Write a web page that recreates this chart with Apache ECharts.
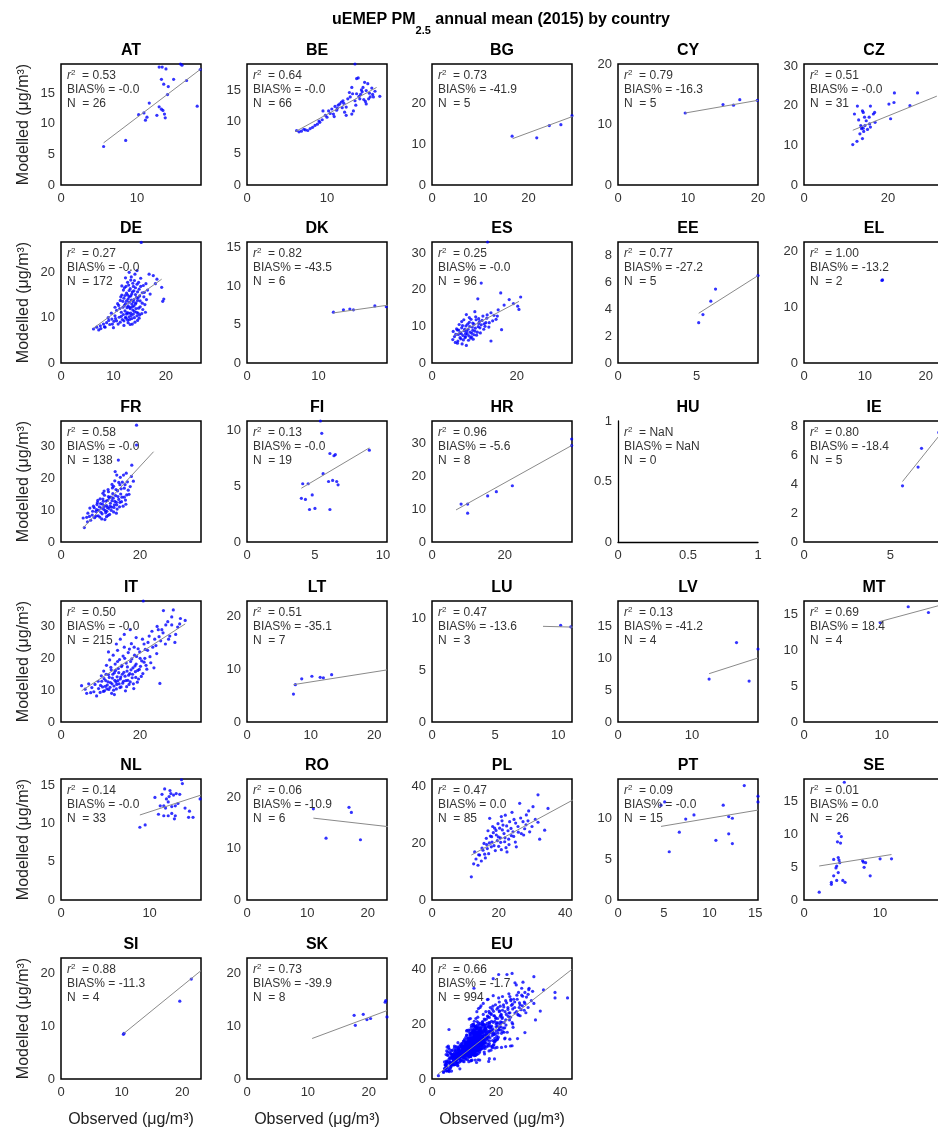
<!DOCTYPE html>
<html><head><meta charset="utf-8">
<script src="https://cdn.jsdelivr.net/npm/echarts@6/dist/echarts.min.js"></script>
<style>html,body{margin:0;padding:0;background:#fff}#c{width:938px;height:1131px}</style>
</head><body><div id="c"></div>
<script>
// ---------------- DATA ----------------
const countries = ['AT','BE','BG','CY','CZ','DE','DK','ES','EE','EL','FR','FI','HR','HU','IE','IT','LT','LU','LV','MT','NL','RO','PL','PT','SE','SI','SK','EU'];
const r2Labels   = ['0.53','0.64','0.73','0.79','0.51','0.27','0.82','0.25','0.77','1.00','0.58','0.13','0.96','NaN','0.80','0.50','0.51','0.47','0.13','0.69','0.14','0.06','0.47','0.09','0.01','0.88','0.73','0.66'];
const biasLabels = ['-0.0','-0.0','-41.9','-16.3','-0.0','-0.0','-43.5','-0.0','-27.2','-13.2','-0.0','-0.0','-5.6','NaN','-18.4','-0.0','-35.1','-13.6','-41.2','18.4','-0.0','-10.9','0.0','-0.0','0.0','-11.3','-39.9','-1.7'];
const nLabels    = ['26','66','5','5','31','172','6','96','5','2','138','19','8','0','5','215','7','3','4','4','33','6','85','15','26','4','8','994'];
// axis extents and tick steps (observed = x, modelled = y)
const xMaxes = [18.4,17.5,29,20,33.3,26.7,19.6,33,8.9,23,35.4,10.3,38.5,1,8.1,35.4,22,11.1,18.9,18,15.8,23.2,42,15.3,18.4,23.1,23,43.7];
const yMaxes = [19.8,19.1,29.5,20,30.5,26.7,15.7,33,9,21.7,37.8,10.8,37,1,8.4,38,23,11.7,18.9,16.8,15.8,23.5,42.8,14.8,18.5,23,23,44];
const xSteps = [10,10,10,10,20,10,10,20,5,10,20,5,20,0.5,5,20,10,5,10,10,10,10,20,5,10,10,10,20];
const ySteps = [5,5,10,10,10,10,5,10,2,10,10,5,10,0.5,2,10,10,5,5,5,5,10,20,5,5,10,10,20];

// observed / modelled pairs per country
const obsModAT = [[5.6,6.3],[8.5,7.3],[10.2,11.5],[10.9,11.8],[11.3,11.1],[11.1,10.6],[11.6,13.4],[12.9,12.8],[13.2,12.4],[13.3,19.3],[12.9,19.3],[13.2,17.3],[13.5,16.5],[14.1,16.1],[13.4,12.2],[13.6,11.6],[13.7,11.0],[14.8,17.3],[15.7,19.8],[15.9,19.6],[16.5,17.1],[17.9,12.9],[18.3,18.9],[13.8,19.0],[12.6,11.4],[14.0,14.8]];
const obsModBE = [[6.2,8.6],[6.5,8.4],[6.8,8.5],[7.1,8.8],[7.3,8.7],[7.6,8.6],[7.9,8.9],[8.2,9.1],[8.5,9.4],[8.8,9.6],[9.1,9.9],[9.4,10.3],[9.5,11.7],[9.8,11.0],[10.2,11.7],[10.4,11.3],[10.6,12.0],[10.8,11.2],[11.0,12.4],[11.2,11.8],[11.4,12.6],[11.6,12.8],[11.8,13.1],[12.0,13.3],[12.2,11.5],[12.4,12.3],[12.4,11.0],[12.6,13.6],[12.9,13.9],[13.1,15.4],[13.1,11.2],[13.3,11.7],[13.5,13.3],[13.6,12.6],[13.7,14.4],[13.7,16.8],[13.9,16.9],[14.0,14.0],[14.1,13.6],[14.3,15.0],[14.5,15.4],[14.7,16.2],[14.8,13.2],[14.9,14.9],[14.9,12.8],[15.1,16.0],[15.3,14.5],[15.4,13.9],[15.6,15.3],[15.8,13.9],[16.0,14.8],[16.6,14.0],[13.5,19.1],[12.8,14.6],[11.9,12.2],[10.9,10.8],[14.4,14.7],[15.2,13.6],
  [9.0,10.1],[10.0,10.7],[11.3,12.1],[12.1,12.9],[13.2,14.4],[14.2,14.3],[14.6,13.5],[15.7,14.3]];
const obsModBG = [[16.6,11.9],[21.7,11.5],[24.3,14.5],[26.7,14.7],[29.0,16.9]];
const obsModCY = [[9.6,11.9],[15.0,13.3],[16.5,13.2],[17.4,14.1],[19.9,14.0]];
const obsModCZ = [[11.6,10.2],[12.6,11.0],[12.0,17.9],[12.7,19.9],[13.3,12.9],[13.5,15.0],[13.7,14.6],[13.9,18.7],[13.9,11.7],[14.1,18.3],[14.4,17.1],[13.7,14.2],[14.1,14.3],[14.5,15.0],[14.8,16.2],[15.5,17.1],[15.6,15.4],[15.8,19.9],[15.8,14.6],[16.5,17.9],[16.8,18.3],[16.9,15.8],[20.6,16.7],[20.2,20.4],[21.5,23.2],[21.4,20.8],[25.2,20.0],[27.0,23.2],[14.2,13.5],[15.1,14.0],[13.0,16.4]];
const obsModDE = [[6.2,7.5],[6.8,7.9],[7.2,7.3],[7.5,8.2],[8.1,8.6],[8.4,7.9],[8.7,8.9],[9.0,10.0],[9.3,8.5],[9.7,9.7],[10.0,7.8],[10.1,9.2],[10.3,10.4],[10.6,9.3],[10.6,11.6],[10.9,8.6],[11.0,12.7],[11.1,10.1],[11.3,9.0],[11.3,13.8],[11.5,11.2],[11.6,15.0],[11.7,9.6],[11.8,12.3],[11.9,10.7],[12.0,14.3],[12.0,8.3],[12.1,16.6],[12.2,11.5],[12.3,13.1],[12.4,9.9],[12.5,15.4],[12.5,10.8],[12.6,12.2],[12.7,17.8],[12.8,14.1],[12.8,8.9],[12.9,11.0],[13.0,13.4],[13.0,16.0],[13.1,9.6],[13.2,12.0],[13.3,14.8],[13.3,18.3],[13.4,10.5],[13.5,13.0],[13.6,15.7],[13.6,8.6],[13.7,11.7],[13.8,16.9],[13.9,14.0],[13.9,12.6],[14.0,10.0],[14.1,19.6],[14.2,15.1],[14.3,13.3],[14.4,11.2],[14.5,17.4],[14.5,20.4],[14.6,9.4],[14.7,14.4],[14.8,12.1],[14.9,16.3],[15.0,10.6],[15.1,13.7],[15.2,18.7],[15.3,26.6],[15.5,15.5],[15.6,11.8],[15.8,14.6],[16.0,12.9],[16.2,17.5],[16.5,16.1],[16.8,19.6],[17.6,19.3],[18.3,18.5],[19.2,16.7],[19.6,14.1],[13.0,20.0],[12.3,18.8],[11.6,17.0],[10.3,12.3],[9.6,11.0],
  [11.2,12.0],[11.4,14.6],[11.5,10.3],[11.8,13.6],[11.9,16.1],[12.0,9.3],[12.1,12.7],[12.2,14.9],[12.3,10.1],[12.4,16.9],[12.5,13.7],[12.6,11.1],[12.7,9.5],[12.7,15.0],[12.8,12.6],[12.9,17.2],[13.0,10.2],[13.0,14.6],[13.1,12.3],[13.2,16.4],[13.2,8.5],[13.3,11.0],[13.4,13.9],[13.4,19.0],[13.5,9.8],[13.5,15.2],[13.6,12.4],[13.7,17.6],[13.8,10.8],[13.8,13.5],[13.9,15.9],[14.0,11.4],[14.0,18.2],[14.1,9.0],[14.2,13.0],[14.2,16.6],[14.3,12.0],[14.4,14.5],[14.5,10.4],[14.6,15.7],[14.6,13.8],[14.7,11.0],[14.8,17.8],[14.9,9.9],[15.0,14.8],[15.1,12.4],[15.2,16.9],[15.4,10.9],[15.5,13.2],[15.7,17.1],[15.9,15.6],[16.1,11.2],[16.3,14.0],[10.8,13.1],[10.4,9.8],[9.8,8.6],[9.1,9.4],[8.3,8.0],[7.6,7.6],[17.0,15.2],[18.0,17.5],[19.4,13.6]];
const obsModDK = [[12.1,6.6],[13.5,6.9],[14.4,7.0],[14.9,6.9],[17.9,7.4],[19.5,7.3]];
const obsModES = [[4.9,6.4],[5.0,8.6],[5.3,7.2],[5.5,5.6],[5.8,9.3],[6.1,6.0],[6.2,7.8],[6.4,10.5],[6.6,8.3],[6.8,6.6],[7.0,9.6],[7.1,5.2],[7.3,7.5],[7.5,11.8],[7.6,8.8],[7.8,6.9],[8.0,10.1],[8.1,4.8],[8.1,13.2],[8.3,7.9],[8.5,9.2],[8.6,6.2],[8.8,11.1],[9.0,8.4],[9.2,11.9],[9.3,7.1],[9.5,9.8],[9.7,6.5],[9.9,10.6],[10.1,8.7],[10.3,12.6],[10.5,7.6],[10.8,17.5],[10.9,9.9],[11.2,11.3],[11.4,8.2],[11.6,10.4],[12.0,12.8],[12.2,9.2],[12.7,11.0],[13.0,13.1],[13.4,9.8],[13.9,13.7],[13.9,6.0],[14.3,11.5],[15.1,11.9],[15.6,14.5],[16.2,19.1],[16.4,9.1],[17.0,15.8],[18.2,17.3],[19.2,16.2],[20.2,15.5],[20.5,14.6],[20.9,18.0],[13.1,33.0],[6.0,9.0],[7.9,8.0],[9.6,8.9],[11.0,10.8],[12.5,10.0],[11.6,21.8],
  [5.6,7.8],[6.0,5.4],[6.3,9.0],[6.6,6.9],[6.9,8.0],[7.2,10.2],[7.4,6.3],[7.7,9.2],[7.9,7.2],[8.2,8.6],[8.4,10.6],[8.7,7.4],[8.9,9.9],[9.1,6.8],[9.4,8.1],[9.6,10.9],[9.9,7.7],[10.2,9.5],[10.4,11.8],[10.7,8.4],[11.0,12.1],[11.3,9.6],[11.8,11.6],[12.3,10.7],[12.9,12.2],[13.5,11.0],[14.6,13.0],[15.4,12.8],[8.8,12.4],[7.0,11.3],[10.1,14.0]];
const obsModEE = [[5.13,3.0],[5.4,3.6],[5.9,4.6],[6.2,5.5],[8.9,6.5]];
const obsModEL = [[12.8,14.8],[12.9,14.9]];
const obsModFR = [[5.6,7.5],[5.9,4.5],[6.5,7.7],[6.8,9.0],[7.3,10.6],[7.5,6.8],[7.9,8.4],[8.2,11.2],[8.5,7.6],[8.8,9.5],[9.0,10.1],[9.2,12.3],[9.4,8.2],[9.7,11.0],[9.9,13.5],[10.1,9.3],[10.3,7.2],[10.5,11.8],[10.7,12.7],[10.8,10.2],[11.0,14.6],[11.1,7.0],[11.3,9.1],[11.5,11.4],[11.6,9.6],[11.8,13.0],[12.0,15.7],[12.1,10.5],[12.3,8.6],[12.5,12.1],[12.6,14.0],[12.8,10.9],[13.0,16.9],[13.2,13.7],[13.3,9.4],[13.5,11.6],[13.6,19.1],[13.7,22.0],[13.8,14.5],[14.0,12.4],[14.1,20.9],[14.2,10.3],[14.3,16.0],[14.5,25.6],[14.6,13.3],[14.8,11.0],[14.9,17.9],[15.1,15.0],[15.3,12.6],[15.5,18.7],[15.8,20.9],[16.0,14.0],[16.2,17.9],[16.4,11.8],[16.6,14.7],[17.0,16.2],[17.5,17.3],[17.9,24.0],[18.3,19.0],[19.1,36.5],[19.1,30.3],[23.4,38.0],[12.9,18.0],[11.9,16.4],[10.6,15.2],
  [8.0,9.6],[8.4,10.7],[8.9,8.1],[9.1,11.7],[9.5,9.9],[9.8,7.8],[10.0,12.0],[10.2,10.6],[10.4,8.8],[10.6,13.4],[10.9,11.1],[11.2,9.8],[11.4,12.8],[11.7,10.8],[11.9,8.3],[12.2,13.8],[12.4,11.2],[12.7,9.9],[12.9,12.9],[13.1,15.1],[13.4,10.8],[13.6,12.7],[13.9,16.4],[14.1,11.6],[14.4,14.2],[14.6,18.6],[14.9,12.4],[15.2,16.6],[15.4,14.0],[15.7,11.2],[16.0,16.8],[16.3,13.1],[16.8,18.8],[17.2,14.9],[15.0,20.2],[13.3,17.4],[12.0,14.2],[9.3,13.0],[7.2,8.0],[6.7,6.3],[10.9,15.9],[11.5,7.9],[14.0,9.0],[16.5,21.5],[17.8,20.5]];
const obsModFI = [[4.1,5.2],[4.5,5.2],[4.0,3.9],[4.3,3.8],[4.8,4.2],[4.6,2.9],[5.0,3.0],[5.5,9.7],[5.6,6.1],[6.0,5.4],[6.1,7.9],[6.5,7.8],[6.1,2.9],[6.3,5.5],[6.6,5.4],[6.7,5.1],[9.0,8.2],[5.4,10.8],[6.4,7.7]];
const obsModHR = [[8.0,11.6],[9.8,11.6],[9.8,8.8],[15.3,14.1],[17.7,15.4],[22.1,17.2],[38.4,29.5],[38.4,31.5]];
const obsModHU = [];
const obsModIE = [[5.7,3.9],[6.6,5.2],[6.8,6.5],[7.8,7.6],[8.3,8.0]];
const obsModIT = [[5.2,11.4],[6.1,10.3],[6.5,9.0],[7.0,12.0],[7.8,10.8],[8.3,9.5],[9.0,8.2],[9.4,12.8],[9.9,9.3],[10.2,14.5],[10.5,11.0],[10.8,16.0],[11.0,9.8],[11.3,13.0],[11.5,17.8],[11.7,11.6],[12.0,14.9],[12.1,10.2],[12.3,19.5],[12.5,12.4],[12.7,16.4],[12.8,9.0],[13.0,13.8],[13.2,21.0],[13.4,11.3],[13.5,15.5],[13.7,18.2],[13.9,12.6],[14.0,10.4],[14.2,14.2],[14.3,22.5],[14.5,16.8],[14.7,12.0],[14.8,19.6],[15.0,13.5],[15.2,11.0],[15.3,17.4],[15.5,15.0],[15.7,20.7],[15.8,12.8],[16.0,23.5],[16.2,14.4],[16.3,9.8],[16.5,18.5],[16.7,16.0],[16.9,13.1],[17.0,21.8],[17.2,11.8],[17.4,15.2],[17.6,19.0],[17.8,24.6],[18.0,13.9],[18.2,17.0],[18.4,10.5],[18.6,21.0],[18.8,15.8],[19.0,18.2],[19.3,12.5],[19.5,23.0],[19.8,16.5],[20.0,20.0],[20.3,14.3],[20.6,26.0],[20.8,38.0],[21.0,18.8],[21.3,22.8],[21.7,16.6],[22.0,25.0],[22.5,20.5],[23.0,28.5],[23.5,17.0],[24.0,24.0],[24.3,30.0],[24.8,26.8],[25.0,12.1],[25.0,38.4],[25.5,29.0],[25.9,35.0],[26.4,24.5],[27.0,31.5],[27.5,27.0],[28.0,30.5],[28.4,35.2],[28.8,25.0],[29.5,29.8],[30.2,32.5],[31.4,31.9],[19.0,26.5],[17.5,29.0],[15.0,26.0],
  [10.0,11.5],[10.3,12.8],[10.7,9.6],[10.9,13.6],[11.2,11.2],[11.4,15.0],[11.6,10.4],[11.9,12.6],[12.2,14.0],[12.4,10.9],[12.6,17.2],[12.9,12.0],[13.1,15.0],[13.3,10.0],[13.6,13.1],[13.8,16.2],[14.1,11.8],[14.3,19.0],[14.4,13.0],[14.6,15.5],[14.9,10.8],[15.1,14.1],[15.4,17.8],[15.6,12.2],[15.9,15.6],[16.1,20.0],[16.4,13.0],[16.6,11.1],[16.8,17.3],[17.1,14.7],[17.3,22.9],[17.5,12.6],[17.7,16.4],[17.9,19.8],[18.1,15.0],[18.3,12.0],[18.5,23.5],[18.7,17.6],[18.9,14.0],[19.1,20.6],[19.4,16.2],[19.6,13.5],[19.9,22.0],[20.1,17.5],[20.4,19.2],[20.7,15.2],[21.0,24.5],[21.2,20.0],[21.5,17.8],[21.9,22.5],[22.3,27.0],[22.7,18.6],[23.2,23.5],[23.7,26.0],[24.2,21.5],[24.6,29.0],[25.2,25.5],[25.8,28.0],[26.5,30.5],[27.2,26.0],[28.0,33.0],[29.0,27.5],[30.0,30.8],[9.5,10.5],[8.6,11.8],[7.5,9.2],[12.0,22.0],[14.0,24.5],[16.0,27.5],[13.5,8.6]];
const obsModLT = [[7.3,5.3],[7.6,7.1],[8.6,8.2],[10.2,8.7],[12.0,8.4],[13.3,9.0],[11.5,8.5]];
const obsModLU = [[10.2,9.35],[11.0,9.2],[12.0,9.1]];
const obsModLV = [[12.3,6.7],[17.7,6.4],[16.0,12.4],[18.9,11.4]];
const obsModMT = [[9.8,13.8],[13.4,16.0],[16.0,15.2],[18.5,16.8]];
const obsModNL = [[8.9,9.5],[9.5,9.8],[10.6,13.4],[11.4,13.8],[11.6,12.3],[11.6,11.0],[11.7,14.5],[11.9,13.2],[12.1,12.8],[12.1,11.0],[12.3,14.3],[12.5,12.2],[12.5,11.3],[12.7,13.7],[12.9,12.3],[12.9,11.0],[13.0,13.9],[13.4,13.8],[13.6,15.7],[13.7,15.2],[14.5,15.9],[14.5,11.6],[14.4,10.8],[14.9,10.8],[15.7,13.2],[11.2,12.3],[12.2,13.5],[13.2,12.6],[11.0,11.2],[12.8,10.6],[14.0,12.0],[12.4,13.9],[11.8,12.0]];
const obsModRO = [[11.0,17.7],[16.9,18.0],[17.3,17.0],[13.1,12.0],[18.8,11.7],[24.5,12.0]];
const obsModPL = [[11.8,8.2],[12.5,12.8],[12.8,17.0],[13.2,14.5],[13.8,12.3],[14.0,16.0],[14.3,15.9],[14.8,13.8],[15.3,17.6],[15.6,20.0],[16.0,14.9],[16.3,21.8],[16.6,18.2],[17.0,16.4],[17.3,28.9],[17.5,22.6],[17.8,18.8],[18.0,20.5],[18.4,23.8],[18.8,25.4],[19.0,17.5],[19.3,23.0],[19.6,21.0],[20.0,19.0],[20.3,25.4],[20.5,22.0],[20.8,17.8],[21.0,28.0],[21.3,26.5],[21.6,23.5],[21.8,20.6],[22.2,18.5],[22.5,17.0],[22.8,24.5],[23.0,21.5],[23.3,27.7],[23.8,22.8],[24.3,24.1],[24.6,28.5],[25.0,20.5],[25.3,18.8],[25.8,26.0],[26.3,34.2],[26.8,23.5],[27.3,27.7],[27.8,25.2],[28.3,30.1],[28.8,28.0],[29.3,24.1],[30.3,33.0],[31.0,28.5],[31.8,37.2],[31.8,27.5],[32.3,21.5],[33.8,24.7],[34.8,32.4],[42.3,29.5],[19.8,27.0],[22.0,30.0],[16.8,24.5],
  [15.0,18.4],[15.8,16.2],[16.4,19.6],[17.2,20.2],[17.9,22.4],[18.6,19.2],[19.2,24.6],[19.9,22.3],[20.6,20.4],[21.1,24.8],[21.9,22.0],[22.4,26.2],[23.1,19.6],[23.7,25.3],[24.5,22.5],[25.1,27.2],[25.9,24.0],[26.6,29.0],[27.5,23.0],[28.2,26.6],[29.0,31.5],[30.0,26.0],[18.2,26.0],[20.8,29.5],[24.0,31.0]];
const obsModPT = [[4.7,11.6],[5.1,12.0],[5.6,5.9],[6.7,8.3],[7.4,9.9],[8.3,10.4],[10.7,7.3],[11.5,11.6],[12.1,8.1],[12.5,6.9],[12.5,10.0],[12.1,10.2],[13.8,14.0],[15.3,12.0],[15.3,12.7]];
const obsModSE = [[2.0,1.2],[3.6,2.7],[3.9,3.7],[4.3,3.0],[4.5,4.2],[4.3,5.2],[4.7,5.7],[4.6,10.2],[4.9,9.7],[4.8,8.7],[5.1,3.0],[5.4,2.7],[3.9,6.2],[4.5,6.5],[7.7,6.0],[7.9,5.0],[8.1,5.7],[8.7,3.7],[10.0,6.3],[11.5,6.3],[5.3,18.0],[3.6,2.4],[4.2,4.9],[4.6,6.1],[7.8,5.8],[4.4,8.9]];
const obsModSI = [[10.3,8.5],[10.4,8.7],[19.6,14.8],[21.5,19.0]];
const obsModSK = [[17.6,12.1],[17.8,10.2],[19.1,12.3],[19.7,11.3],[20.3,11.5],[22.7,14.6],[23.0,11.8],[22.8,14.9]];

// regression line end points [x1, y1, x2, y2]
const fitLines = [
  [5.6,6.9,18.4,19.0],[6.0,8.4,16.2,15.4],[16.7,11.3,29.1,16.7],[9.6,11.9,20,14.0],[11.6,13.8,31.6,22.4],
  [6.2,7.7,19.2,18.5],[12.1,6.5,19.7,7.5],[5.3,7.5,20.5,16.8],[5.13,3.7,8.9,6.5],null,
  [5.6,4.4,23.4,28.2],[4.0,4.8,9.0,8.4],[6.6,9.8,38.4,29.5],null,[5.7,4.2,8.3,8.1],
  [5.2,9.8,31.4,30.8],[7.3,7.1,22,9.9],[8.8,9.25,12,9.15],[12.3,7.55,18.9,10.0],[9.6,13.9,18.5,16.5],
  [8.9,11.1,15.8,13.7],[11.0,15.9,24.5,14.1],[11.8,15.9,42.3,35.4],[4.7,9.0,15.3,11.0],[2.0,5.2,11.5,6.95],
  [10.3,8.6,23.1,20.6],[10.7,7.7,23,13.0],[1.9,1.8,43.7,39.9]
];

const countryPoints = [obsModAT,obsModBE,obsModBG,obsModCY,obsModCZ,obsModDE,obsModDK,obsModES,obsModEE,obsModEL,
  obsModFR,obsModFI,obsModHR,obsModHU,obsModIE,obsModIT,obsModLT,obsModLU,obsModLV,obsModMT,
  obsModNL,obsModRO,obsModPL,obsModPT,obsModSE,obsModSI,obsModSK];
const obsModEU = [].concat(...countryPoints);
const allPoints = countryPoints.concat([obsModEU]);

// ---------------- LAYOUT ----------------
const FONT = '"Liberation Sans", Arial, Helvetica, sans-serif';
const colLeft = [61, 247, 432, 618, 804];
const rowTop = [64, 242, 421, 601, 779, 958];
const PW = 140, PH = 121;
const TXT = '#333';

const grids = [], xAxes = [], yAxes = [], series = [];
const titles = [{
  text: '{a|uEMEP PM}{b|2.5}{a| annual mean (2015) by country}',
  left: 501, top: 12, textAlign: 'center', padding: 0,
  textStyle: { fontFamily: FONT, rich: {
    a: { fontSize: 16, fontWeight: 'bold', color: '#000', lineHeight: 24, verticalAlign: 'top', fontFamily: FONT },
    b: { fontSize: 11, fontWeight: 'bold', color: '#000', lineHeight: 11, verticalAlign: 'bottom', fontFamily: FONT }
  } }
}];

function stepFmt(step) {
  return function (v) {
    const k = v / step;
    return Math.abs(k - Math.round(k)) < 1e-6 ? String(+(+v).toFixed(2)) : '';
  };
}

countries.forEach((c, i) => {
  const r = Math.floor(i / 5), col = i % 5;
  const left = colLeft[col], top = rowTop[r];
  const pts = allPoints[i];
  const noBox = pts.length === 0;
  grids.push({ left, top, width: PW, height: PH, show: !noBox, borderColor: '#000', borderWidth: 1.5,
    backgroundColor: 'transparent', containLabel: false, outerBoundsMode: 'none' });
  const axisLineStyle = { show: noBox, lineStyle: { color: '#000', width: 1.3 } };
  const xa = { type: 'value', gridIndex: i, min: 0, max: xMaxes[i], interval: xSteps[i],
    axisLine: axisLineStyle, axisTick: { show: false }, splitLine: { show: false },
    axisLabel: { formatter: stepFmt(xSteps[i]), color: TXT, fontSize: 13, fontFamily: FONT, margin: 7, hideOverlap: false } };
  const ya = { type: 'value', gridIndex: i, min: 0, max: yMaxes[i], interval: ySteps[i],
    axisLine: axisLineStyle, axisTick: { show: false }, splitLine: { show: false },
    axisLabel: { formatter: stepFmt(ySteps[i]), color: TXT, fontSize: 13, fontFamily: FONT, margin: 6, hideOverlap: false } };
  if (col === 0) {
    Object.assign(ya, { name: 'Modelled (\u03bcg/m\u00b3)', nameLocation: 'middle', nameGap: 29,
      nameTextStyle: { fontSize: 16, color: '#222', fontFamily: FONT } });
  }
  if (r === 5) {
    Object.assign(xa, { name: 'Observed (\u03bcg/m\u00b3)', nameLocation: 'middle', nameGap: 33,
      nameTextStyle: { fontSize: 16, color: '#222', fontFamily: FONT } });
  }
  xAxes.push(xa); yAxes.push(ya);

  series.push({ type: 'scatter', xAxisIndex: i, yAxisIndex: i, data: pts, symbol: 'circle', symbolSize: 3.2,
    itemStyle: { color: '#0000ff' }, clip: true, silent: true, z: 2 });
  const f = fitLines[i];
  if (f) {
    series.push({ type: 'line', xAxisIndex: i, yAxisIndex: i, data: [[f[0], f[1]], [f[2], f[3]]],
      symbol: 'none', showSymbol: false, lineStyle: { color: '#8a8a8a', width: 1 }, clip: true, silent: true, z: 3 });
  }

  titles.push({ text: c, left: left + PW / 2, top: top - 21, textAlign: 'center', padding: 0,
    textStyle: { fontSize: 16, fontWeight: 'bold', color: '#000', fontFamily: FONT } });
  titles.push({
    text: '{i|r}{s|2}{t|  = ' + r2Labels[i] + '}\n{t|BIAS% = ' + biasLabels[i] + '}\n{t|N  = ' + nLabels[i] + '}',
    left: left + 6, top: top + 5, padding: 0,
    textStyle: { fontFamily: FONT, fontSize: 12, fontWeight: 'normal', color: TXT, rich: {
      i: { fontStyle: 'italic', fontWeight: 'normal', fontSize: 12, color: TXT, lineHeight: 14, fontFamily: FONT },
      s: { fontSize: 8, fontWeight: 'normal', color: TXT, lineHeight: 8, verticalAlign: 'top', fontFamily: FONT },
      t: { fontSize: 12, fontWeight: 'normal', color: TXT, lineHeight: 14, fontFamily: FONT }
    } }
  });
});

const chart = echarts.init(document.getElementById('c'), null, { renderer: 'canvas' });
chart.setOption({
  animation: false,
  backgroundColor: '#fff',
  title: titles,
  grid: grids,
  xAxis: xAxes,
  yAxis: yAxes,
  series: series
});
</script>
</body></html>
